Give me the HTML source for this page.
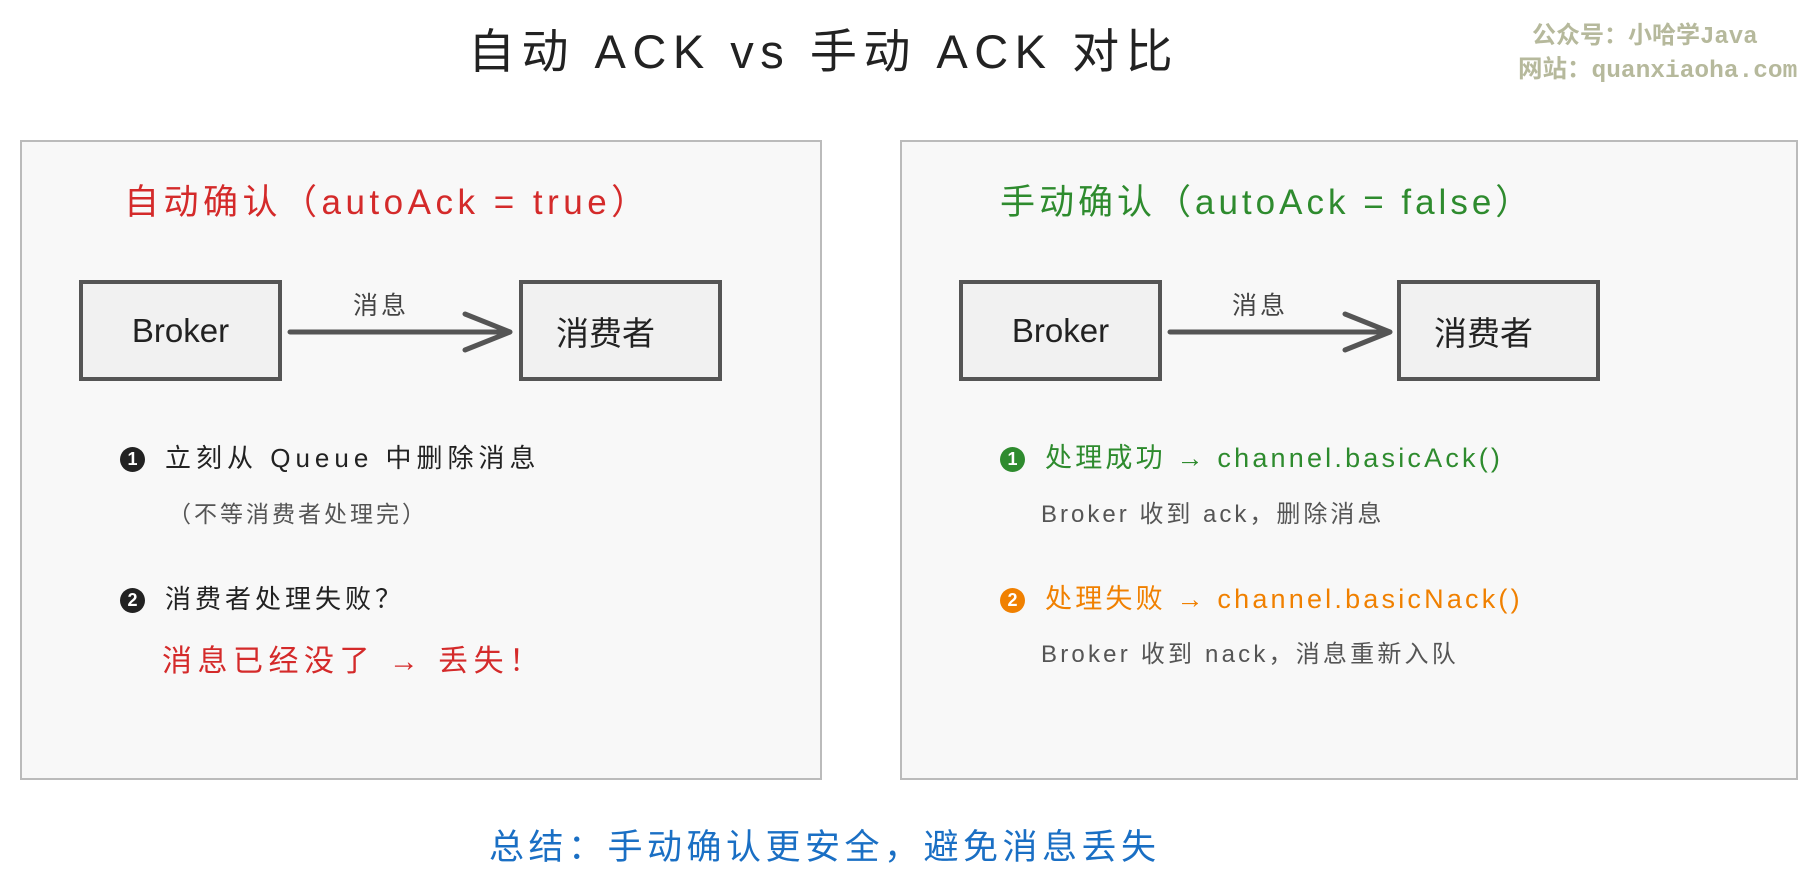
<!DOCTYPE html>
<html><head><meta charset="utf-8"><style>
body{margin:0;width:1820px;height:895px;background:#fff;position:relative;overflow:hidden;font-family:"Liberation Sans","Noto Sans CJK SC",sans-serif}
.t{position:absolute;white-space:nowrap;line-height:1}
.panel{position:absolute;background:#f8f8f8;border:2px solid #bbb;box-sizing:border-box}
.box{position:absolute;background:#f1f1f1;border:4px solid #555;box-sizing:border-box;display:flex;align-items:center;justify-content:center;font-size:33px;color:#222}
.num{display:inline-block;width:25px;height:25px;border-radius:50%;color:#fff;font-size:18px;text-align:center;line-height:25px;font-weight:bold;vertical-align:2px;margin-right:20px;letter-spacing:0}
</style></head><body>
<div class="t" style="left:468px;top:28px;font-size:47px;color:#222;letter-spacing:6.5px">自动 ACK vs 手动 ACK 对比</div>
<div class="t" style="left:1532px;top:26px;font-size:24px;color:#b6b99c;font-weight:bold;font-family:'Liberation Mono','Noto Sans CJK SC',monospace">公众号：小哈学Java</div>
<div class="t" style="left:1518px;top:60px;font-size:24.5px;color:#b6b99c;font-weight:bold;font-family:'Liberation Mono','Noto Sans CJK SC',monospace">网站：quanxiaoha.com</div>

<div class="panel" style="left:20px;top:140px;width:802px;height:640px"></div>
<div class="panel" style="left:900px;top:140px;width:898px;height:640px"></div>

<div class="t" style="left:124px;top:185px;font-size:35px;color:#d42a2a;letter-spacing:4.5px">自动确认（autoAck = true）</div>
<div class="box" style="left:79px;top:280px;width:203px;height:101px">Broker</div>
<div class="box" style="left:519px;top:280px;width:203px;height:101px;padding-right:30px">消费者</div>
<svg style="position:absolute;left:0;top:0" width="1820" height="895">
<g stroke="#555" stroke-width="5" fill="none" stroke-linecap="round" stroke-linejoin="round">
<path d="M290 332 L510 332 M465 314 L510 332 L465 350"/>
<path d="M1170 332 L1390 332 M1345 314 L1390 332 L1345 350"/>
</g></svg>
<div class="t" style="left:353px;top:294px;font-size:25px;color:#444;letter-spacing:3px">消息</div>
<div class="t" style="left:1232px;top:294px;font-size:25px;color:#444;letter-spacing:3px">消息</div>

<div class="t" style="left:120px;top:445px;font-size:26px;color:#222;letter-spacing:5px"><span class="num" style="background:#222">1</span>立刻从 Queue 中删除消息</div>
<div class="t" style="left:168px;top:503px;font-size:23px;color:#555;letter-spacing:3px">（不等消费者处理完）</div>
<div class="t" style="left:120px;top:586px;font-size:26px;color:#222;letter-spacing:4px"><span class="num" style="background:#222">2</span>消费者处理失败？</div>
<div class="t" style="left:162px;top:647px;font-size:30px;color:#d42a2a;letter-spacing:5.5px">消息已经没了 → 丢失！</div>

<div class="t" style="left:1000px;top:185px;font-size:35px;color:#2e8b2e;letter-spacing:4px">手动确认（autoAck = false）</div>
<div class="box" style="left:959px;top:280px;width:203px;height:101px">Broker</div>
<div class="box" style="left:1397px;top:280px;width:203px;height:101px;padding-right:30px">消费者</div>
<div class="t" style="left:1000px;top:445px;font-size:27px;color:#2e8b2e;letter-spacing:3.2px"><span class="num" style="background:#2e8b2e">1</span>处理成功 → channel.basicAck()</div>
<div class="t" style="left:1041px;top:503px;font-size:24px;color:#555;letter-spacing:3px">Broker 收到 ack，删除消息</div>
<div class="t" style="left:1000px;top:586px;font-size:27px;color:#f08000;letter-spacing:3.2px"><span class="num" style="background:#f08000">2</span>处理失败 → channel.basicNack()</div>
<div class="t" style="left:1041px;top:643px;font-size:24px;color:#555;letter-spacing:3.2px">Broker 收到 nack，消息重新入队</div>

<div class="t" style="left:489px;top:830px;font-size:35px;color:#1a6fc4;letter-spacing:4.5px">总结：手动确认更安全，避免消息丢失</div>
</body></html>
